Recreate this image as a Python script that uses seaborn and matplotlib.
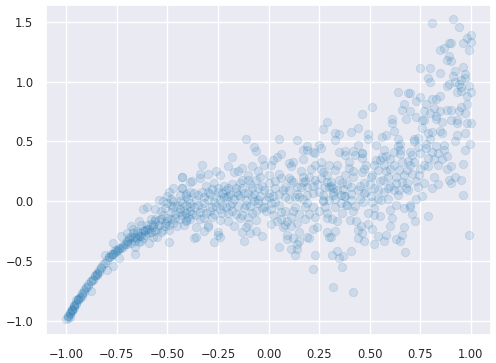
import numpy as np
import pandas as pd
import matplotlib
matplotlib.use("Agg")
import matplotlib.pyplot as plt
import seaborn as sns

# values, one pair of lists per area of the cloud
curve_x = [-1.00,-0.99,-0.99,-0.98,-0.98,-0.97,-0.97,-0.96,-0.96,-0.95,-0.95,-0.94,-0.93,-0.92,-0.92,-0.91,-0.90,-0.89,-0.88,-0.88,
           -0.87,-0.86,-0.85,-0.84,-0.83,-0.82,-0.81,-0.79,-0.78,-0.77,-0.76,-0.74,-0.73,-0.77,-0.73,-0.80,-0.77,-0.74,-0.66,-0.72,
           -0.70,-0.70,-0.68,-0.69,-0.67,-0.65,-0.64,-0.66,-0.63,-0.59,-0.57,-0.55,-0.49,-0.64,-0.62,-0.60,-0.63,-0.60,-0.58,-0.56,
           -0.53,-0.51,-0.48,-0.56,-0.51,-0.54,-0.50,-0.48,-0.49,-0.47,-0.43,-0.43,-0.44,-0.47,-0.44,-0.41,-0.41,-0.42,-0.49,-0.52,
           -0.55,-0.58,-0.63,-0.61,-0.67,-0.53,-0.48,-0.41,-0.39,-0.39,-0.39,-0.39,
           -0.98,-0.97,-0.96,-0.95,-0.94,-0.93,-0.91,-0.89,-0.87,-0.85,-0.84,-0.80,-0.78,-0.76,-0.75,-0.72,-0.70,-0.68,-0.67,-0.65,
           -0.62,-0.60,-0.58,-0.56,-0.54,-0.52,-0.50,-0.48,-0.46,-0.45,-0.44,-0.47,-0.50,-0.52,
           -0.99,-0.98,-0.97,-0.96,-0.94,-0.92,-0.90,-0.88,-0.86,-0.85,-0.83,-0.81,-0.79,-0.77,-0.75,-0.74,-0.71,-0.69,-0.66,-0.65,
           -0.63,-0.61,-0.59,-0.57]
curve_y = [-0.99,-0.98,-0.96,-0.945,-0.93,-0.91,-0.90,-0.88,-0.87,-0.85,-0.83,-0.82,-0.80,-0.79,-0.77,-0.74,-0.72,-0.69,-0.67,-0.75,
           -0.65,-0.63,-0.61,-0.59,-0.55,-0.53,-0.45,-0.47,-0.46,-0.44,-0.41,-0.40,-0.39,-0.35,-0.29,-0.58,-0.54,-0.48,-0.44,-0.37,
           -0.33,-0.27,-0.21,-0.30,-0.27,-0.31,-0.34,-0.38,-0.33,-0.35,-0.30,-0.30,-0.34,-0.17,-0.07,-0.05,-0.20,-0.20,-0.15,-0.17,
           -0.15,-0.18,-0.15,-0.07,-0.06,0.01,0.04,0.02,0.08,0.11,0.11,0.20,0.05,-0.05,-0.07,-0.10,-0.16,-0.20,-0.24,-0.24,
           -0.23,-0.26,-0.27,-0.28,-0.23,-0.08,-0.03,0.06,0.16,0.08,-0.02,-0.15,
           -0.97,-0.92,-0.89,-0.86,-0.83,-0.81,-0.76,-0.71,-0.66,-0.62,-0.58,-0.49,-0.44,-0.43,-0.41,-0.38,-0.34,-0.30,-0.31,-0.27,
           -0.24,-0.23,-0.19,-0.15,-0.16,-0.12,-0.14,-0.09,-0.11,-0.03,0.00,0.00,-0.02,0.00,
           -0.96,-0.94,-0.91,-0.88,-0.82,-0.78,-0.73,-0.67,-0.62,-0.60,-0.56,-0.52,-0.47,-0.44,-0.42,-0.39,-0.36,-0.32,-0.30,-0.25,
           -0.29,-0.25,-0.23,-0.20]

middle_x = [0.29,0.27,-0.11,0.05,0.14,-0.07,-0.06,0.19,0.25,0.26,0.17,0.19,0.22,0.23,0.06,0.04,
            -0.18,-0.03,0.02,0.17,0.10,0.12,0.26,-0.33,-0.20,-0.02,0.01,0.11,0.30,-0.08,-0.13,-0.26,-0.34,-0.30,-0.15,
            -0.17,-0.24,-0.34,-0.43,-0.38,-0.10,-0.05,-0.04,0.00,0.05,0.16,0.21,0.27,0.26,0.06,0.10,0.11,0.17,0.18,
            0.29,0.32,-0.27,-0.22,-0.18,-0.14,-0.10,-0.06,0.00,0.03,0.08,0.14,0.22,0.25,-0.43,-0.37,-0.31,-0.30,
            -0.21,-0.25,-0.08,-0.13,-0.16,-0.02,0.10,0.23,0.13,0.15,0.19,0.27,-0.41,-0.36,-0.32,-0.27,-0.21,-0.14,-0.08,
            0.00,-0.05,0.03,0.08,0.19,0.22,0.27,0.30,-0.43,-0.39,-0.34,-0.28,-0.23,-0.18,-0.11,-0.02,-0.40,-0.44,-0.32,
            -0.28,-0.24,-0.20,-0.13,-0.08,0.01,0.06,0.08,0.12,0.23,0.29,-0.41,-0.30,-0.24,-0.20,-0.17,-0.10,-0.06,0.01,
            0.04,0.09,0.14,0.18,0.29,-0.36,-0.30,-0.11,0.07,0.11,0.22,0.24,-0.32,-0.25,-0.13,-0.09,-0.06,0.09,
            0.15,0.29,-0.37,-0.36,-0.24,-0.25,-0.03,-0.12,-0.27,0.09,0.12,0.15,0.19,0.20,0.30,0.05,0.14,0.11,0.14,
            0.13,0.23,0.22]
middle_y = [0.66,0.60,0.52,0.52,0.51,0.45,0.42,0.46,0.47,0.44,0.43,0.43,0.41,0.40,0.39,0.37,
            0.37,0.35,0.34,0.35,0.32,0.33,0.33,0.30,0.29,0.30,0.30,0.29,0.30,0.29,0.28,0.25,0.23,0.23,0.25,
            0.24,0.22,0.19,0.20,0.17,0.22,0.25,0.20,0.22,0.23,0.25,0.27,0.24,0.27,0.19,0.19,0.18,0.16,0.17,
            0.16,0.11,0.15,0.13,0.14,0.15,0.18,0.18,0.15,0.11,0.12,0.12,0.13,0.08,0.11,0.07,0.13,0.08,
            0.09,0.08,0.11,0.11,0.08,0.09,0.09,0.18,0.03,0.03,0.05,0.01,0.04,0.01,0.03,-0.01,0.03,0.03,0.03,
            0.03,0.01,-0.01,0.03,-0.02,-0.05,0.00,0.01,-0.02,-0.05,-0.09,-0.05,-0.03,-0.02,-0.03,-0.05,-0.13,-0.09,-0.14,
            -0.13,-0.07,-0.10,-0.12,-0.10,-0.07,-0.09,-0.08,-0.08,-0.13,-0.10,-0.17,-0.20,-0.16,-0.17,-0.21,-0.19,-0.16,-0.19,
            -0.17,-0.17,-0.18,-0.15,-0.14,-0.22,-0.22,-0.22,-0.22,-0.21,-0.23,-0.22,-0.25,-0.26,-0.26,-0.27,-0.25,-0.28,
            -0.26,-0.26,-0.31,-0.30,-0.30,-0.28,-0.29,-0.33,-0.34,-0.32,-0.31,-0.33,-0.30,-0.31,-0.30,-0.38,-0.36,-0.40,-0.40,
            -0.45,-0.45,-0.57]

upper_x = [0.81,0.91,0.94,1.00,0.98,0.96,1.00,0.89,0.90,0.87,0.85,0.99,0.89,0.88,0.90,0.75,0.80,0.96,0.92,0.85,
           0.97,0.91,0.79,0.80,0.92,0.95,0.97,0.94,0.89,0.88,0.95,0.99,0.93,0.95,1.00,0.98,0.64,0.69,0.70,0.75,
           0.73,0.81,0.83,0.85,0.51,0.67,0.78,0.82,0.98,0.95,0.46,0.66,0.70,0.77,0.80,0.85,0.88,0.90,0.94,0.97,
           0.68,0.61,0.61,0.73,0.76,0.77,0.83,0.83,0.86,0.90,0.93,0.93,0.98,1.00,0.44,0.41,0.33,0.35,0.49,0.62,
           0.76,0.79,0.81,0.85,0.86,0.93,0.97,0.33,0.49,0.56,0.58,0.64,0.72,0.74,0.72,0.80,0.78,0.74,0.65,0.64,
           0.53,0.44,0.83,0.87,0.92,0.995,0.97,0.87,0.57,0.65,0.35,0.38,0.42,0.46,0.70,0.81]
upper_y = [1.49,1.52,1.46,1.39,1.36,1.32,1.33,1.32,1.32,1.28,1.26,1.26,1.21,1.18,1.17,1.11,1.11,1.12,1.09,1.07,
           1.06,1.05,1.03,1.00,1.00,1.01,1.03,0.98,0.98,0.96,0.95,0.96,0.91,0.92,0.91,0.88,0.91,0.90,0.90,0.87,
           0.84,0.85,0.85,0.88,0.79,0.81,0.81,0.78,0.81,0.79,0.73,0.76,0.75,0.75,0.74,0.75,0.76,0.76,0.75,0.74,
           0.69,0.69,0.65,0.70,0.68,0.68,0.71,0.69,0.66,0.68,0.68,0.65,0.65,0.65,0.61,0.58,0.57,0.56,0.56,0.59,
           0.61,0.57,0.58,0.59,0.57,0.55,0.57,0.51,0.52,0.54,0.55,0.52,0.52,0.53,0.50,0.52,0.48,0.45,0.48,0.46,
           0.47,0.47,0.46,0.47,0.50,0.48,0.43,0.43,0.43,0.43,0.41,0.42,0.42,0.40,0.41,0.41]

lower_x = [0.96,0.88,0.84,0.79,0.90,0.88,0.82,0.89,0.90,0.92,0.95,0.84,0.81,0.96,0.76,0.74,0.73,0.69,0.685,0.645,
           0.54,0.48,0.505,0.365,0.31,0.375,0.32,0.42,0.35,0.40,0.34,0.47,0.46,0.52,0.55,0.58,0.63,0.60,0.565,0.62,
           0.66,0.69,0.71,0.75,0.745,0.77,0.79,0.725,0.71,0.70,0.67,0.63,0.60,0.59,0.55,0.61,0.60,0.49,0.465,0.385,
           0.33,0.365,0.315,0.34,0.405,0.435,0.455,0.49,0.51,0.44,0.67,0.66,0.63,0.65,0.58,0.54,0.57,0.52,0.47,0.44,
           0.46,0.33,0.31,0.99,0.675,0.41,0.34,0.37,0.315,0.35,0.365,0.32,0.42,
           0.39,0.42,0.51,0.47,0.44,0.41,0.34,0.33,0.38,0.43,0.46,0.57,0.54,0.505,0.60,0.645,0.71,0.685,0.66,0.62,
           0.59,0.555,0.52,0.38,0.36,0.45,0.41]
lower_y = [0.31,0.38,0.30,0.29,0.29,0.27,0.20,0.18,0.15,0.20,0.18,0.14,0.11,0.05,0.045,0.12,0.02,0.09,0.15,0.09,
           0.09,0.08,0.04,0.15,0.125,0.04,0.05,0.20,0.18,0.28,0.30,0.27,0.36,0.30,0.34,0.38,0.20,0.13,0.18,0.41,
           0.33,0.335,0.385,0.27,0.22,0.15,-0.125,-0.17,-0.11,-0.05,-0.06,-0.03,-0.075,0.02,-0.125,-0.145,-0.21,-0.10,-0.01,-0.03,
           -0.05,-0.10,-0.15,-0.17,-0.16,-0.17,-0.21,-0.19,-0.23,-0.24,-0.22,-0.28,-0.32,-0.335,-0.28,-0.29,-0.33,-0.36,-0.33,-0.31,
           -0.27,-0.25,-0.30,-0.28,-0.43,-0.42,-0.42,-0.46,-0.45,-0.48,-0.55,-0.72,-0.76,
           -0.03,-0.08,-0.01,0.15,0.09,0.12,0.09,0.26,0.385,0.385,0.40,0.30,0.26,0.20,0.27,0.26,0.23,0.26,0.16,0.09,
           0.11,0.01,-0.06,0.04,-0.02,0.02,0.01]

# overlapping circles in the darker parts of the band
dense_x = [-0.70,-0.68,-0.66,-0.64,-0.62,-0.61,-0.59,-0.57,-0.56,-0.54,-0.53,-0.51,-0.50,-0.49,-0.47,-0.46,-0.45,-0.44,-0.43,-0.42,
           -0.41,-0.40,-0.39,-0.38,-0.37,-0.36,-0.35,-0.35,-0.34,-0.33,-0.33,-0.32,-0.31,-0.30,-0.29,-0.29,-0.28,-0.27,-0.26,-0.26,
           -0.25,-0.24,-0.23,-0.23,-0.22,-0.21,-0.20,-0.20,-0.19,-0.19,-0.18,-0.17,-0.16,-0.16,-0.15,-0.15,-0.14,-0.13,-0.12,-0.12,
           -0.11,-0.10,-0.10,-0.09,-0.09,-0.07,-0.07,-0.06,-0.05,-0.05,-0.04,-0.03,-0.03,-0.01,-0.01,0.00,0.01,0.02,0.02,0.03,
           0.05,0.05,0.06,0.07,0.08,0.10,0.11,0.12,0.13,0.14,0.15,0.16,0.17,0.17,0.18,0.19,0.20,0.20,0.22,0.23,
           0.24,0.25,0.26,0.27,0.28,0.28,0.29,0.30,0.31,0.32,0.33,0.36,0.37,0.38,0.39,0.40,0.41,0.42,0.43,0.45,
           0.46,0.47,0.48,0.50,0.51,0.52,0.53,0.54,0.55,0.56,0.57,0.58,0.59,0.60,0.62,0.63,0.64,0.65,0.67,0.68,
           0.70,0.72,0.73,0.75,0.77,0.78,0.79,0.82,0.84,0.86,0.70,0.52]
dense_y = [-0.36,-0.35,-0.33,-0.29,-0.31,-0.24,-0.27,-0.22,-0.25,-0.20,-0.26,-0.21,-0.17,-0.20,-0.18,-0.14,-0.21,-0.15,-0.12,-0.08,
           -0.03,0.02,-0.08,-0.11,-0.05,-0.12,-0.03,0.05,-0.15,-0.06,0.08,-0.02,-0.10,0.01,-0.08,0.06,0.10,-0.11,0.03,-0.04,
           0.11,0.01,-0.10,0.07,0.03,-0.05,0.11,0.04,-0.03,0.06,-0.08,0.02,-0.11,0.11,0.05,-0.04,-0.14,0.18,-0.06,0.07,
           0.01,0.07,-0.13,0.14,-0.04,0.06,0.00,-0.08,0.11,-0.02,0.04,-0.06,0.13,0.01,-0.08,0.07,-0.02,0.04,-0.12,0.17,
           0.06,-0.03,-0.15,0.09,-0.20,0.02,-0.13,0.16,-0.05,0.06,-0.11,0.12,0.20,0.02,-0.05,0.12,0.20,-0.11,0.07,0.30,
           0.14,-0.08,0.19,0.05,0.12,-0.05,0.22,0.12,0.16,0.08,0.02,0.05,0.10,0.22,0.14,0.33,0.06,0.25,-0.04,0.13,
           0.24,0.07,0.30,0.14,0.22,0.11,0.34,0.02,0.17,0.37,0.08,0.25,0.20,0.35,0.30,0.15,0.05,0.39,0.22,0.11,
           0.30,0.33,0.17,0.40,0.30,0.44,0.36,0.35,0.40,0.35,-0.03,-0.12]

df = pd.DataFrame({"x": curve_x + middle_x + upper_x + lower_x + dense_x,
                   "y": curve_y + middle_y + upper_y + lower_y + dense_y})

sns.set_theme(style="darkgrid")
plt.rcParams["font.family"] = ["DejaVu Sans"]

fig, ax = plt.subplots(figsize=(4.96, 3.63), dpi=100)
sns.scatterplot(data=df, x="x", y="y", ax=ax, color="#1f77b4", alpha=0.14, s=36,
                edgecolor="#1f77b4", linewidth=0.7)
ax.set_xlim(-1.10, 1.10)
ax.set_ylim(-1.12, 1.64)
ax.set_xticks(np.arange(-1, 1.01, 0.25))
ax.set_yticks(np.arange(-1, 1.51, 0.5))
ax.set_xlabel("")
ax.set_ylabel("")
ax.tick_params(labelsize=8.3, pad=3)
fig.subplots_adjust(left=46 / 496, right=491 / 496, top=1 - 5 / 363, bottom=1 - 335 / 363)
plt.savefig("out.png", dpi=100)
